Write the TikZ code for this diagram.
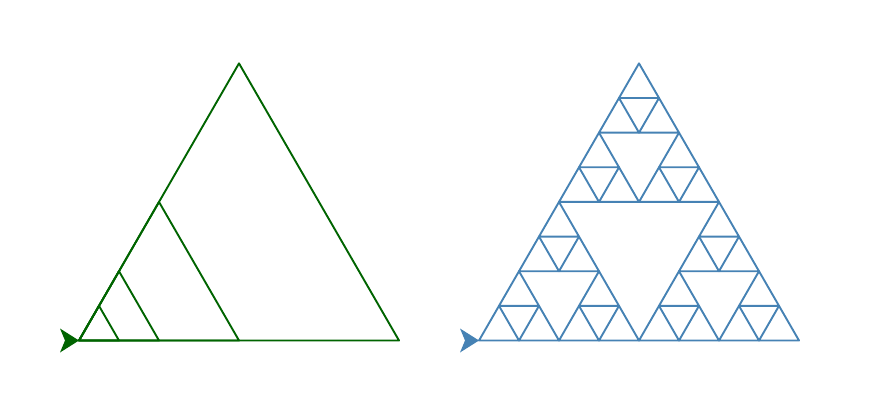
\documentclass[tikz,border=0pt]{standalone}
\usetikzlibrary{calc}
\definecolor{fgreen}{HTML}{006400}
\definecolor{fblue}{HTML}{4682B4}
\tikzset{
  edge/.style={line width=1.9pt, line join=round},
}
\begin{document}
\begin{tikzpicture}[x=1pt,y=1pt]
\useasboundingbox (0,0) rectangle (872,408);
% left figure
\coordinate (L) at (79,67.5);
\foreach \s in {320,160,80,40}
  \draw[edge, fgreen] (L) -- ++(\s,0) -- ++(-\s/2,{\s*0.8660254}) -- cycle;
\fill[fgreen] (L) -- ++(-19,12) -- ++(5,-12) -- ++(-5,-12) -- cycle;
% right figure
\coordinate (R) at (479,67.5);
\foreach \ax/\ay in {0/0,160/0,80/138.564}
 \foreach \bx/\by in {0/0,80/0,40/69.282}
  \foreach \cx/\cy in {0/0,40/0,20/34.641}
   \draw[edge, fblue] ($(R)+(\ax+\bx+\cx,\ay+\by+\cy)$) -- ++(40,0) -- ++(-20,34.641) -- cycle;
\fill[fblue] (R) -- ++(-19,12) -- ++(5,-12) -- ++(-5,-12) -- cycle;
\end{tikzpicture}
\end{document}
